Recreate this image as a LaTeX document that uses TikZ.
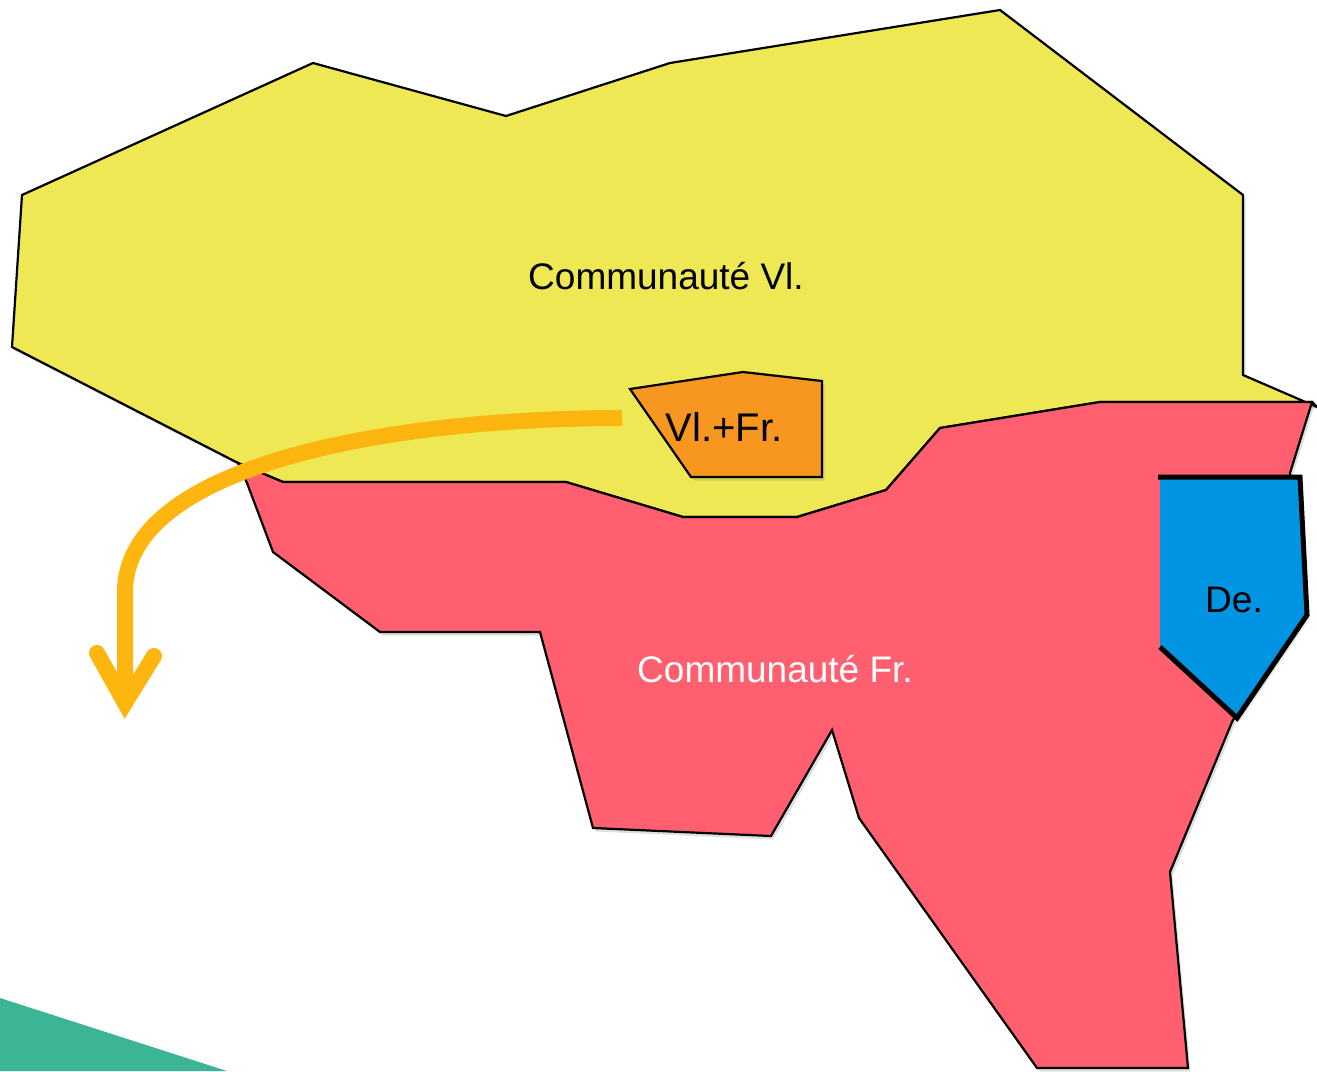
\documentclass[tikz,border=0pt]{standalone}
\usepackage{fontspec}
\setmainfont{Liberation Sans}
\usetikzlibrary{shadows,calc}
\definecolor{flyellow}{RGB}{237,232,84}
\definecolor{frred}{RGB}{255,95,110}
\definecolor{mixorange}{RGB}{248,151,32}
\definecolor{deblue}{RGB}{0,148,226}
\definecolor{arrowgold}{RGB}{253,181,16}
\definecolor{cornergreen}{RGB}{59,181,150}
\begin{document}
\begin{tikzpicture}[x=1pt,y=-1pt,
  region/.style={draw=black,line width=2.2pt,line join=miter,
    drop shadow={shadow xshift=2.5pt,shadow yshift=-3.5pt,opacity=0.25}},
  label/.style={inner sep=0pt,anchor=base,font=\fontsize{37}{44}\selectfont},
  arrowline/.style={draw=arrowgold,line width=16pt},
]
\useasboundingbox (0,0) rectangle (1317,1071);
% green corner
\fill[cornergreen] (0,998) -- (227,1071) -- (0,1071) -- cycle;
% Flemish community
\path[region,fill=flyellow] (22,195) -- (313,63) -- (506,116) -- (670,63) -- (1000,10)
  -- (1243,195) -- (1243,375) -- (1317,407) -- (1312,402) -- (1100,402) -- (940,428)
  -- (886,490) -- (797,517) -- (683,517) -- (566,482) -- (283,482) -- (240,464)
  -- (12,347) -- cycle;
% French community
\path[region,fill=frred] (238,463) -- (283,482) -- (566,482) -- (683,517) -- (797,517)
  -- (886,490) -- (940,428) -- (1100,402) -- (1312,402) -- (1290,473) -- (1300,600)
  -- (1232,722) -- (1170,872) -- (1188,1068) -- (1037,1068) -- (859,818) -- (832,730)
  -- (771,836) -- (593,828) -- (540,632) -- (380,632) -- (273,552) -- (247,483) -- cycle;
% Brussels (Vl.+Fr.)
\path[region,fill=mixorange] (630,389) -- (743,372) -- (822,381) -- (822,477)
  -- (691,477) -- cycle;
% German community
\fill[deblue,drop shadow={shadow xshift=2.5pt,shadow yshift=-3.5pt,opacity=0.25}]
  (1160,477) -- (1300,477) -- (1307,615) -- (1237,718) -- (1160,647) -- cycle;
\draw[line width=5pt,line join=miter] (1158,477) -- (1300,477) -- (1307,615)
  -- (1237,718) -- (1160,647);
% labels
\node[label] (vl) at (666,289) {Communauté Vl.};
\node[label,text=white] (fr) at (775,682) {Communauté Fr.};
\node[label,font=\fontsize{40}{46}\selectfont] (bxl) at (724,441) {Vl.+Fr.};
\node[label] (de) at (1234,612) {De.};
% arrow
\coordinate (arrS) at (622,418);
\coordinate (arrE) at (125,703);
\draw[arrowline,line cap=butt] (arrS) .. controls (400,418) and (128,462) .. (125,590) -- (arrE);
\draw[arrowline,line cap=round,line join=miter] ($(arrE)+(-28,-50)$) -- (arrE) -- ($(arrE)+(29,-47)$);
\end{tikzpicture}
\end{document}
